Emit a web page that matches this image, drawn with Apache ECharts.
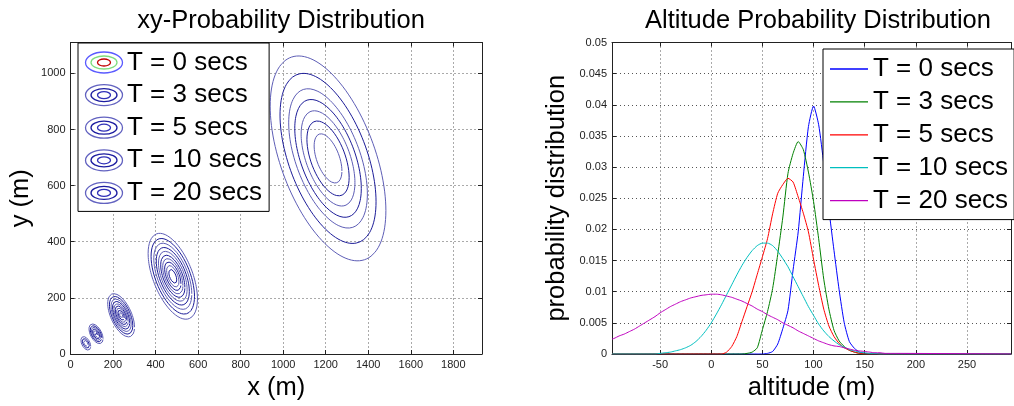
<!DOCTYPE html>
<html><head><meta charset="utf-8">
<script src="https://cdn.jsdelivr.net/npm/echarts@6/dist/echarts.min.js"></script>
<style>html,body{margin:0;padding:0;background:#fff}#c{width:1014px;height:406px}</style>
</head><body><div id="c"></div><script>
// ---------- Left chart: xy contour families ----------
var familyNames = ['T = 0 secs', 'T = 3 secs', 'T = 5 secs', 'T = 10 secs', 'T = 20 secs'];
var centerX = [72, 120, 238, 481, 1211];
var centerY = [38, 72, 138, 277, 697];
var halfX = [23, 33, 63, 116, 272];
var halfY = [24, 35, 77, 153, 365];
var corr = [-0.45, -0.5, -0.55, -0.53, -0.51];
var ringsT0 = [1, 0.7, 0.45, 0.2];
var ringsT3 = [1, 0.82, 0.66, 0.5, 0.35, 0.2];
var ringsT5 = [1, 0.87, 0.75, 0.64, 0.53, 0.43, 0.33, 0.23, 0.13];
var ringsT10 = [1, 0.88, 0.77, 0.67, 0.58, 0.49, 0.41, 0.33, 0.25, 0.16];
var ringsT20 = [1, 0.83, 0.68, 0.575, 0.465, 0.365, 0.24];
var xTicksLeft = [0, 200, 400, 600, 800, 1000, 1200, 1400, 1600, 1800];
var yTicksLeft = [0, 200, 400, 600, 800, 1000];

// ---------- Right chart: altitude distributions ----------
var altitude = [-97, -95, -90, -85, -80, -75, -70, -65, -60, -55, -50, -45, -40, -35, -30, -25, -20, -15, -10, -5,
  0, 5, 10, 15, 20, 25, 30, 35, 40, 45, 50, 55, 60, 65, 70, 75, 80, 85, 90, 95,
  100, 105, 110, 115, 120, 125, 130, 135, 140, 145, 150, 155, 160, 165, 170, 175, 180, 293];
var probT0 = [0, 0, 0, 0, 0, 0, 0, 0, 0, 0, 0, 0, 0, 0, 0, 0, 0, 0, 0, 0,
  0, 0, 0, 0, 0, 0, 0, 0, 0, 0, 0, 0.0001, 0.0004, 0.0016, 0.0041, 0.0070, 0.0135, 0.0196, 0.0285, 0.0365,
  0.0398, 0.0368, 0.0305, 0.0232, 0.0166, 0.0103, 0.0050, 0.0020, 0.0009, 0.0003, 0.0001, 0, 0, 0, 0, 0, 0, 0];
var probT3 = [0, 0, 0, 0, 0, 0, 0, 0, 0, 0, 0, 0, 0, 0, 0, 0, 0, 0, 0, 0,
  0, 0, 0, 0, 0, 0, 0, 0.0001, 0.0003, 0.0010, 0.0039, 0.0068, 0.0105, 0.0160, 0.0220, 0.0290, 0.0322, 0.0341, 0.0328, 0.0292,
  0.0245, 0.0185, 0.0120, 0.0072, 0.0038, 0.0021, 0.0012, 0.0006, 0.0003, 0.0001, 0, 0, 0, 0, 0, 0, 0, 0];
var probT5 = [0, 0, 0, 0, 0, 0, 0, 0, 0, 0, 0, 0, 0, 0, 0, 0, 0, 0, 0, 0,
  0, 0, 0, 0.0003, 0.0012, 0.0028, 0.0052, 0.0076, 0.0100, 0.0128, 0.0156, 0.0185, 0.0225, 0.0258, 0.0272, 0.0282, 0.0276, 0.0252, 0.0226, 0.0196,
  0.0152, 0.0110, 0.0072, 0.0045, 0.0028, 0.0017, 0.0010, 0.0006, 0.0003, 0.0001, 0, 0, 0, 0, 0, 0, 0, 0];
var probT10 = [0, 0, 0, 0, 0, 0, 0, 0, 0, 0, 0.0001, 0.0002, 0.0003, 0.0005, 0.0007, 0.0010, 0.0014, 0.0020, 0.0028, 0.0038,
  0.0050, 0.0064, 0.0079, 0.0095, 0.0111, 0.0127, 0.0142, 0.0155, 0.0166, 0.0174, 0.0178, 0.0178, 0.0174, 0.0165, 0.0153, 0.0140, 0.0124, 0.0108, 0.0092, 0.0076,
  0.0062, 0.0048, 0.0037, 0.0028, 0.0021, 0.0015, 0.0011, 0.0007, 0.0005, 0.0003, 0.0002, 0.0001, 0.0001, 0, 0, 0, 0, 0];
var probT20 = [0.0024, 0.0025, 0.0029, 0.0032, 0.0036, 0.0040, 0.0045, 0.0050, 0.0055, 0.0060, 0.0066, 0.0071, 0.0076, 0.0080, 0.0084, 0.0087, 0.0090, 0.0092, 0.0094, 0.0095,
  0.0096, 0.0096, 0.0095, 0.0093, 0.0091, 0.0088, 0.0085, 0.0081, 0.0077, 0.0072, 0.0068, 0.0063, 0.0059, 0.0055, 0.0050, 0.0046, 0.0042, 0.0037, 0.0033, 0.0029,
  0.0025, 0.0021, 0.0018, 0.0015, 0.0013, 0.0012, 0.0010, 0.0008, 0.0006, 0.0005, 0.0004, 0.0003, 0.0002, 0.0002, 0.0001, 0.0001, 0.0001, 0];
var altNames = ['T = 0 secs', 'T = 3 secs', 'T = 5 secs', 'T = 10 secs', 'T = 20 secs'];
var altColors = ['#0000ff', '#008000', '#ff0000', '#00bfbf', '#bf00bf'];

// ---------- build ----------
var FONT = 'Liberation Sans, Arial, sans-serif';
var ringSets = [ringsT0, ringsT3, ringsT5, ringsT10, ringsT20];
function ellipse(f, s) {
  var pts = [], q = Math.sqrt(1 - corr[f] * corr[f]);
  for (var k = 0; k <= 120; k++) {
    var t = 2 * Math.PI * k / 120;
    pts.push([centerX[f] + s * halfX[f] * Math.cos(t),
              centerY[f] + s * halfY[f] * (corr[f] * Math.cos(t) + q * Math.sin(t))]);
  }
  return pts;
}
var series = [];
for (var f = 0; f < familyNames.length; f++) {
  ringSets[f].forEach(function (s, i) {
    series.push({
      type: 'line', name: 'xy:' + familyNames[f], xAxisIndex: 0, yAxisIndex: 0,
      data: ellipse(f, s), symbol: 'none', silent: true,
      lineStyle: { width: 1, color: (i % 2 ? '#1c1c98' : '#5e5eb6') },
      itemStyle: { color: '#3030a8' }
    });
  });
}
var altSeriesData = [probT0, probT3, probT5, probT10, probT20];
altNames.forEach(function (n, i) {
  series.push({
    type: 'line', name: n, xAxisIndex: 2, yAxisIndex: 2, symbol: 'none', smooth: 0.2,
    data: altitude.map(function (a, j) { return [a, altSeriesData[i][j]]; }),
    lineStyle: { width: 1, color: altColors[i] }, itemStyle: { color: altColors[i] }
  });
});

function ringIcon(c1, c2, c3) {
  var svg = '<svg xmlns="http://www.w3.org/2000/svg" width="40" height="24" viewBox="0 0 40 24">' +
    '<ellipse cx="20" cy="12" rx="18.5" ry="10.5" fill="none" stroke="' + c1 + '" stroke-width="1.3"/>' +
    '<ellipse cx="20" cy="12" rx="13" ry="6.5" fill="none" stroke="' + c2 + '" stroke-width="1.3"/>' +
    '<ellipse cx="20" cy="12" rx="6.5" ry="3.5" fill="none" stroke="' + c3 + '" stroke-width="1.3"/></svg>';
  return 'image://data:image/svg+xml;charset=utf-8,' + encodeURIComponent(svg);
}
var leftLegendData = familyNames.map(function (n, i) {
  return { name: 'xy:' + n, icon: i === 0 ? ringIcon('#5a5aff', '#80dd80', '#c00000') : ringIcon('#6262c0', '#1c1ca0', '#3030b8') };
});
var rightLegendData = altNames.map(function (n) { return { name: n, icon: 'rect' }; });

var gridLine = { show: true, lineStyle: { color: '#555', type: [1, 3], width: 1 } };
var axLine = { show: true, onZero: false, lineStyle: { color: '#222', width: 1 } };
var tick = { show: true, inside: true, length: 4, lineStyle: { color: '#222' } };
var lab = { color: '#222', fontSize: 11, fontFamily: FONT, margin: 5 };
var nameStyle = { color: '#000', fontSize: 25.5, fontFamily: FONT };

function sec(base, pos) {
  var a = Object.assign({}, base);
  a.position = pos; a.axisLabel = { show: false }; a.splitLine = { show: false };
  a.name = ''; return a;
}
var xL = { type: 'value', gridIndex: 0, min: xTicksLeft[0], max: 1935, interval: 200,
  axisLine: axLine, axisTick: tick, splitLine: gridLine,
  axisLabel: Object.assign({ formatter: function (v) { return xTicksLeft.indexOf(v) >= 0 ? String(v) : ''; } }, lab),
  name: 'x (m)', nameLocation: 'middle', nameGap: 21, nameTextStyle: nameStyle };
var yL = { type: 'value', gridIndex: 0, min: yTicksLeft[0], max: 1110, interval: 200,
  axisLine: axLine, axisTick: tick, splitLine: gridLine,
  axisLabel: Object.assign({ formatter: function (v) { return yTicksLeft.indexOf(v) >= 0 ? String(v) : ''; } }, lab),
  name: 'y (m)', nameLocation: 'middle', nameGap: 37, nameTextStyle: nameStyle };
var xR = { type: 'value', gridIndex: 1, min: -97, max: 293, splitNumber: 8,
  axisLine: axLine, axisTick: tick, splitLine: gridLine,
  axisLabel: Object.assign({ formatter: function (v) { return Math.abs(v % 50) < 1e-9 ? String(v) : ''; } }, lab),
  name: 'altitude (m)', nameLocation: 'middle', nameGap: 21, nameTextStyle: nameStyle };
var yR = { type: 'value', gridIndex: 1, min: 0, max: 0.05, interval: 0.005,
  axisLine: axLine, axisTick: tick, splitLine: gridLine,
  axisLabel: Object.assign({ formatter: function (v) { return String(+v.toFixed(3)); } }, lab),
  name: 'probability distribution', nameLocation: 'middle', nameGap: 42, nameTextStyle: nameStyle };

var titleStyle = { fontSize: 25.5, fontWeight: 'normal', color: '#000', fontFamily: FONT };
var option = {
  animation: false,
  backgroundColor: '#fff',
  title: [
    { text: 'xy-Probability Distribution', left: 276, top: 3, textAlign: 'center', textStyle: titleStyle },
    { text: 'Altitude Probability Distribution', left: 813, top: 3, textAlign: 'center', textStyle: titleStyle }
  ],
  grid: [
    { left: 70.5, top: 42.5, width: 411.5, height: 311.5 },
    { left: 612, top: 42.5, width: 401, height: 311.5 }
  ],
  xAxis: [xL, sec(xL, 'top'), xR, sec(xR, 'top')],
  yAxis: [yL, sec(yL, 'right'), yR, sec(yR, 'right')],
  legend: [
    { data: leftLegendData, orient: 'vertical', left: 78, top: 43, itemWidth: 40, itemHeight: 24, itemGap: 4.6,
      padding: [5.5, 7, 4.5, 6], borderColor: '#000', borderWidth: 1, backgroundColor: '#fff', selectedMode: false,
      formatter: function (n) { return n.replace(/^xy:/, ''); },
      textStyle: { fontSize: 26, color: '#000', fontFamily: FONT, lineHeight: 28, padding: [0, 0, 0, -2] } },
    { data: rightLegendData, orient: 'vertical', left: 823, top: 49, itemWidth: 38, itemHeight: 1.3, itemGap: 4.9,
      padding: [6, 6, 5, 7], borderColor: '#000', borderWidth: 1, backgroundColor: '#fff', selectedMode: false,
      textStyle: { fontSize: 26, color: '#000', fontFamily: FONT, lineHeight: 28 } }
  ],
  series: series
};
var chart = echarts.init(document.getElementById('c'), null, { renderer: 'canvas' });
chart.setOption(option);
</script></body></html>
